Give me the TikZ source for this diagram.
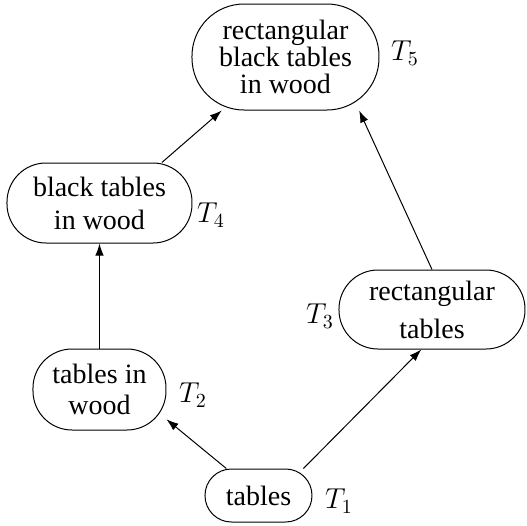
\documentclass[tikz,border=0pt]{standalone}
\usepackage{fontspec}
\setmainfont{Liberation Serif}
\usetikzlibrary{arrows.meta}
\tikzset{
  box/.style={draw, line width=0.5pt, rounded corners=19.5pt, align=center, inner sep=0pt},
  lbl/.style={font=\fontsize{14.5}{16}\selectfont, inner sep=0pt},
  conn/.style={line width=0.5pt, -{Latex[length=6pt,width=4.2pt]}}
}
\begin{document}
\begin{tikzpicture}[x=0.5pt,y=-0.5pt]
\useasboundingbox (0,0) rectangle (527,526);
\node[box, rounded corners=26pt, minimum width=93.5pt, minimum height=53pt,
      font=\fontsize{14}{13.5}\selectfont] (t5) at (285.5,57) {rectangular\\black tables\\in wood};
\node[box, minimum width=92.5pt, minimum height=40pt,
      font=\fontsize{14}{16.5}\selectfont] (t4) at (99.5,203) {black tables\\in wood};
\node[box, minimum width=93pt, minimum height=39.5pt,
      font=\fontsize{14}{19}\selectfont] (t3) at (432,309.5) {rectangular\\tables};
\node[box, minimum width=66.5pt, minimum height=40.5pt,
      font=\fontsize{14}{15.5}\selectfont] (t2) at (99.5,389.5) {tables in\\wood};
\node[box, rounded corners=13.2pt, minimum width=53.5pt, minimum height=26.5pt,
      font=\fontsize{14}{16}\selectfont] (t1) at (258.5,495.5) {tables};
\node[lbl] (l5) at (405,53) {$T_5$};
\node[lbl] (l4) at (211,215) {$T_4$};
\node[lbl] (l3) at (320,316) {$T_3$};
\node[lbl] (l2) at (193,395) {$T_2$};
\node[lbl] (l1) at (339,501) {$T_1$};
\draw[conn] (t1.140) -- (t2.-24);
\draw[conn] (t1.31) -- (t3.-105);
\draw[conn] (t2.north) -- (t2.north |- t4.south);
\draw[conn] (t4.33.7) -- (t5.-140);
\draw[conn] (t3.north) -- (t5.-36.5);
\end{tikzpicture}
\end{document}
